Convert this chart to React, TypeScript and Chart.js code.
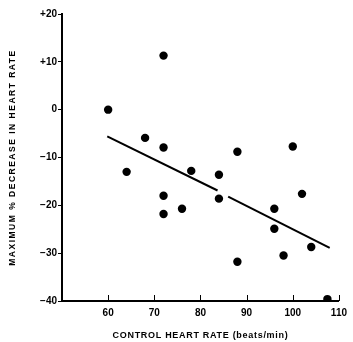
import React, { useEffect, useRef } from "react";
import { Chart, registerables } from "chart.js";

Chart.register(...registerables);

const controlRate = [60, 72, 68, 72, 64, 72, 72, 88, 100, 78, 84, 84, 76, 96, 102, 96, 88, 98, 104, 107.5];
const pctDecrease = [0, 11.3, -5.9, -7.9, -13, -18, -21.8, -8.8, -7.7, -12.8, -13.6, -18.6, -20.7, -20.7, -17.6, -24.9, -31.8, -30.5, -28.7, -39.6];

const fitSeg1X = [59.8, 83.7];
const fitSeg1Y = [-5.6, -16.9];
const fitSeg2X = [86.0, 108];
const fitSeg2Y = [-18.2, -28.9];

const xTicks = [50, 60, 70, 80, 90, 100, 110];
const xTickLabels = ["", "60", "70", "80", "90", "100", "110"];
const yTicks = [20, 10, 0, -10, -20, -30, -40];
const yTickLabels = ["+20", "+10", "0", "\u221210", "\u221220", "\u221230", "\u221240"];

const xTitle = "CONTROL HEART RATE (beats/min)";
const yTitle = "MAXIMUM % DECREASE IN HEART RATE";

const FONT = "'Liberation Sans', Arial, sans-serif";

const innerTicks = {
  id: "innerTicks",
  beforeDraw(chart: any) {
    const spacing: Record<string, string> = { x: "0.7px", y: "1.5px" };
    for (const id of ["x", "y"]) {
      const s = chart.scales[id];
      if (s && !s.__patched) {
        const orig = s.drawTitle;
        s.drawTitle = function (...args: any[]) {
          const ctx = this.ctx;
          ctx.save();
          (ctx as any).letterSpacing = spacing[id];
          orig.apply(this, args);
          ctx.restore();
        };
        s.__patched = true;
      }
    }
  },
  afterDraw(chart: any) {
    const x = chart.scales.x;
    const ctx = chart.ctx;
    ctx.save();
    ctx.strokeStyle = "#000";
    ctx.lineWidth = 1;
    for (const v of xTicks) {
      if (v === 50) continue;
      const px = Math.round(x.getPixelForValue(v)) + 0.5;
      ctx.beginPath();
      ctx.moveTo(px, x.top);
      ctx.lineTo(px, x.top - 6);
      ctx.stroke();
    }
    ctx.restore();
  },
};

export default function App() {
  const ref = useRef<HTMLCanvasElement>(null);
  useEffect(() => {
    document.body.style.margin = "0";
    const chart = new Chart(ref.current!, {
      type: "scatter",
      data: {
        datasets: [
          {
            data: controlRate.map((x, i) => ({ x, y: pctDecrease[i] })),
            backgroundColor: "#000",
            borderColor: "#000",
            pointRadius: 4.2,
            pointBorderWidth: 0,
          },
          {
            type: "line",
            data: fitSeg1X.map((x, i) => ({ x, y: fitSeg1Y[i] })),
            borderColor: "#000",
            borderWidth: 2,
            pointRadius: 0,
            fill: false,
          },
          {
            type: "line",
            data: fitSeg2X.map((x, i) => ({ x, y: fitSeg2Y[i] })),
            borderColor: "#000",
            borderWidth: 2,
            pointRadius: 0,
            fill: false,
          },
        ],
      } as any,
      options: {
        animation: false,
        responsive: false,
        maintainAspectRatio: false,
        layout: { padding: { top: 14, right: 6, left: 0, bottom: 0 } },
        plugins: { legend: { display: false }, tooltip: { enabled: false } },
        scales: {
          x: {
            type: "linear",
            min: 50,
            max: 110,
            afterFit: (s: any) => {
              s.height = 41;
            },
            afterBuildTicks: (s: any) => {
              s.ticks = xTicks.map((v) => ({ value: v }));
            },
            ticks: {
              color: "#000",
              padding: 6,
              maxRotation: 0,
              autoSkip: false,
              font: { family: FONT, size: 10, weight: "bold" },
              callback: (v: any) => xTickLabels[xTicks.indexOf(Number(v))] ?? "",
            },
            grid: { display: false, drawTicks: false },
            border: { display: true, color: "#000", width: 2 },
            title: {
              display: true,
              text: xTitle,
              color: "#000",
              font: { family: FONT, size: 9, weight: "bold" },
              padding: { top: 0, bottom: 1 },
            },
          },
          y: {
            type: "linear",
            min: -40,
            max: 20,
            afterFit: (s: any) => {
              s.width = 62;
            },
            afterBuildTicks: (s: any) => {
              s.ticks = yTicks.map((v) => ({ value: v }));
            },
            ticks: {
              color: "#000",
              padding: 1,
              autoSkip: false,
              font: { family: FONT, size: 10, weight: "bold" },
              callback: (v: any) => yTickLabels[yTicks.indexOf(Number(v))] ?? "",
            },
            grid: { display: true, drawOnChartArea: false, drawTicks: true, tickLength: 4, color: "#000" },
            border: { display: true, color: "#000", width: 2 },
            title: {
              display: true,
              text: yTitle,
              color: "#000",
              font: { family: FONT, size: 8.5, weight: "bold" },
              padding: { top: 8, bottom: 0 },
            },
          },
        },
      },
      plugins: [innerTicks],
    });
    return () => chart.destroy();
  }, []);
  return (
    <div style={{ position: "absolute", left: 0, top: 0, width: 353, height: 342, background: "#fff" }}>
      <canvas ref={ref} width={353} height={342} style={{ width: 353, height: 342 }} />
    </div>
  );
}
